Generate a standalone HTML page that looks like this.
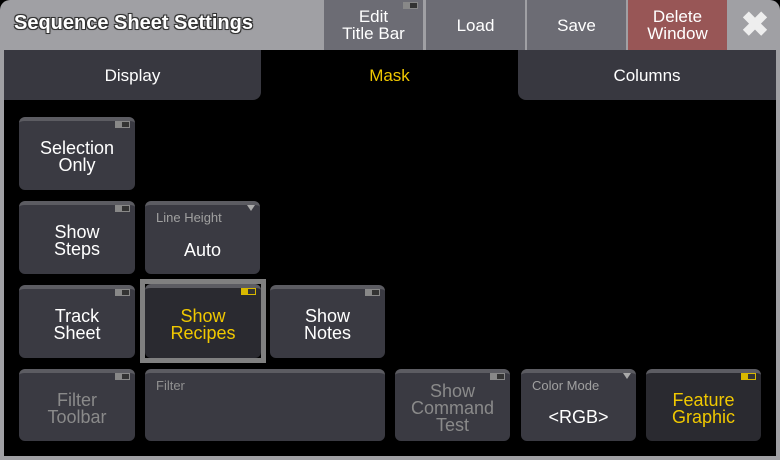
<!DOCTYPE html>
<html><head><style>
*{box-sizing:border-box;margin:0;padding:0}
body{width:780px;height:460px;background:#000;font-family:"Liberation Sans",sans-serif;position:relative;overflow:hidden;color:#fff}
.a{position:absolute}
.tb{top:0;height:50px;background:#6c6c74;display:flex;align-items:center;justify-content:center;text-align:center;font-size:17px;line-height:17px}
.btn{position:absolute;background:#3a3a42;border-radius:6px;border-top:4px solid #5c5c62;display:flex;align-items:center;justify-content:center;text-align:center;font-size:18px;line-height:17px;color:#fff;padding-top:3px}
.tg{position:absolute;top:0;right:5px;width:15px;height:7px;background:#888;}
.tg::after{content:"";position:absolute;right:1px;top:1px;width:7px;height:5px;background:#333}
.lbl{position:absolute;left:11px;top:6px;font-size:13px;color:#a0a0a0}
.tri{position:absolute;right:5px;top:0;width:0;height:0;border-left:4px solid transparent;border-right:4px solid transparent;border-top:6px solid #aaa}
</style></head><body>
<div class="a" style="left:0;top:0;width:780px;height:460px;background:#a0a0a4;border-radius:10px 10px 0 0"></div>
<div class="a" style="left:4px;top:50px;width:772px;height:406px;background:#000"></div>
<div class="a" style="left:14px;top:8px;font-size:20px;line-height:30px;font-weight:bold;color:#fff;text-shadow:-1px -1px 0 #333,1px -1px 0 #333,-1px 1px 0 #333,1px 1px 0 #333,0 0 2px #333">Sequence Sheet Settings</div>
<div class="a tb" style="left:324px;width:99px">Edit<br>Title Bar<div class="tg" style="top:2px"></div></div>
<div class="a tb" style="left:426px;width:99px">Load</div>
<div class="a tb" style="left:527px;width:99px">Save</div>
<div class="a tb" style="left:628px;width:99px;background:#985656">Delete<br>Window</div>
<div class="a" style="left:730px;top:0;width:50px;height:50px;display:flex;align-items:center;justify-content:center;font-size:34px;color:#eee;font-weight:bold">✖</div>
<div class="a" style="left:4px;top:50px;width:257px;height:50px;background:#383840;border-radius:0 0 8px 0;display:flex;align-items:center;justify-content:center;font-size:17px;padding-top:2px">Display</div>
<div class="a" style="left:261px;top:50px;width:257px;height:50px;display:flex;align-items:center;justify-content:center;font-size:17px;color:#f0c800;padding-top:2px">Mask</div>
<div class="a" style="left:518px;top:50px;width:258px;height:50px;background:#383840;border-radius:0 0 0 8px;display:flex;align-items:center;justify-content:center;font-size:17px;padding-top:2px">Columns</div>

<div class="btn" style="left:19px;top:117px;width:116px;height:73px">Selection<br>Only<div class="tg"></div></div>
<div class="btn" style="left:19px;top:201px;width:116px;height:73px">Show<br>Steps<div class="tg"></div></div>
<div class="btn" style="left:145px;top:201px;width:115px;height:73px"><span class="lbl" style="top:4px">Line Height</span><span style="margin-top:18px">Auto</span><div class="tri"></div></div>
<div class="btn" style="left:19px;top:285px;width:116px;height:73px">Track<br>Sheet<div class="tg"></div></div>
<div class="a" style="left:140px;top:279px;width:126px;height:84px;border:5px solid #808080;background:#000"></div>
<div class="btn" style="left:145px;top:284px;width:116px;height:74px;background:#2a2a30;border-radius:6px;color:#f0c800">Show<br>Recipes<div class="tg" style="background:#d8b800"></div></div>
<div class="btn" style="left:270px;top:285px;width:115px;height:73px">Show<br>Notes<div class="tg"></div></div>
<div class="btn" style="left:19px;top:369px;width:116px;height:72px;color:#8a8a8a">Filter<br>Toolbar<div class="tg"></div></div>
<div class="btn" style="left:145px;top:369px;width:240px;height:72px"><span class="lbl" style="top:4px;color:#909090">Filter</span></div>
<div class="btn" style="left:395px;top:369px;width:115px;height:72px;color:#8a8a8a">Show<br>Command<br>Test<div class="tg"></div></div>
<div class="btn" style="left:521px;top:369px;width:115px;height:72px"><span class="lbl" style="top:4px">Color Mode</span><span style="margin-top:18px">&lt;RGB&gt;</span><div class="tri"></div></div>
<div class="btn" style="left:646px;top:369px;width:115px;height:72px;background:#2a2a30;color:#f0c800">Feature<br>Graphic<div class="tg" style="background:#d8b800"></div></div>
</body></html>
